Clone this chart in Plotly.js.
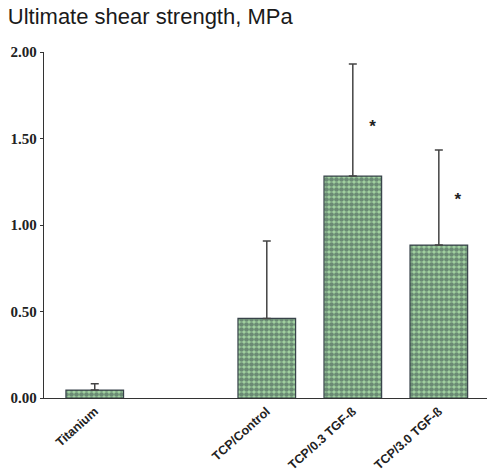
<!DOCTYPE html>
<html><head><meta charset="utf-8">
<script src="https://cdn.plot.ly/plotly-3.0.1.min.js"></script>
<style>body{margin:0;background:#fff}#c{width:487px;height:472px}</style>
</head><body><div id="c"></div>
<script>
const categories = ["Titanium", "TCP/Control", "TCP/0.3 TGF-ß", "TCP/3.0 TGF-ß"];
const positions = [0, 2, 3, 4];
const strength = [0.046, 0.46, 1.283, 0.884];
const errorPlus = [0.036, 0.447, 0.647, 0.549];
const starX = [3.23, 4.22];
const starY = [1.56, 1.14];
const yTicks = [0, 0.5, 1, 1.5, 2];
const yTickText = ["0.00", "0.50", "1.00", "1.50", "2.00"];

const bars = {
  type: "bar", x: positions, y: strength, width: 0.67,
  marker: {color: "#8fbf90", line: {color: "#38434a", width: 1.2},
    pattern: {shape: ".", size: 5, solidity: 0.7, fgcolor: "#2f3d45", bgcolor: "#a4d6a2", fillmode: "overlay"}},
  error_y: {type: "data", symmetric: false, array: errorPlus, arrayminus: strength.map(() => 0), color: "#444", thickness: 1.5, width: 4},
  hoverinfo: "none"
};
const stars = {
  type: "scatter", mode: "text", x: starX, y: starY, text: starX.map(() => "*"),
  textfont: {family: "Liberation Sans, Arial", size: 17, color: "#222", weight: "bold"}, hoverinfo: "none"
};
const layout = {
  width: 487, height: 472, showlegend: false,
  margin: {l: 44, r: 0, t: 52, b: 74},
  paper_bgcolor: "#fff", plot_bgcolor: "#fff",
  title: {text: "Ultimate shear strength, MPa", x: 0.016, xanchor: "left", y: 0.965, yanchor: "middle",
    font: {family: "Liberation Sans, Arial", size: 22, color: "#1a1a1a"}},
  xaxis: {range: [-0.59, 4.56], tickvals: positions, ticktext: categories, tickangle: -42,
    showgrid: false, zeroline: false, showline: true, linecolor: "#333", linewidth: 1.2, ticks: "",
    tickfont: {family: "Liberation Sans, Arial", size: 12.5, color: "#222", weight: "bold"}},
  yaxis: {range: [0, 2], tickvals: yTicks, ticktext: yTickText, showgrid: false, zeroline: false,
    showline: true, linecolor: "#333", linewidth: 1.2, ticks: "outside", ticklen: 3, tickcolor: "#333",
    tickfont: {family: "Liberation Serif, Times New Roman", size: 15, color: "#222", weight: "bold"}}
};
Plotly.newPlot("c", [bars, stars], layout, {displayModeBar: false, staticPlot: true});
</script></body></html>
